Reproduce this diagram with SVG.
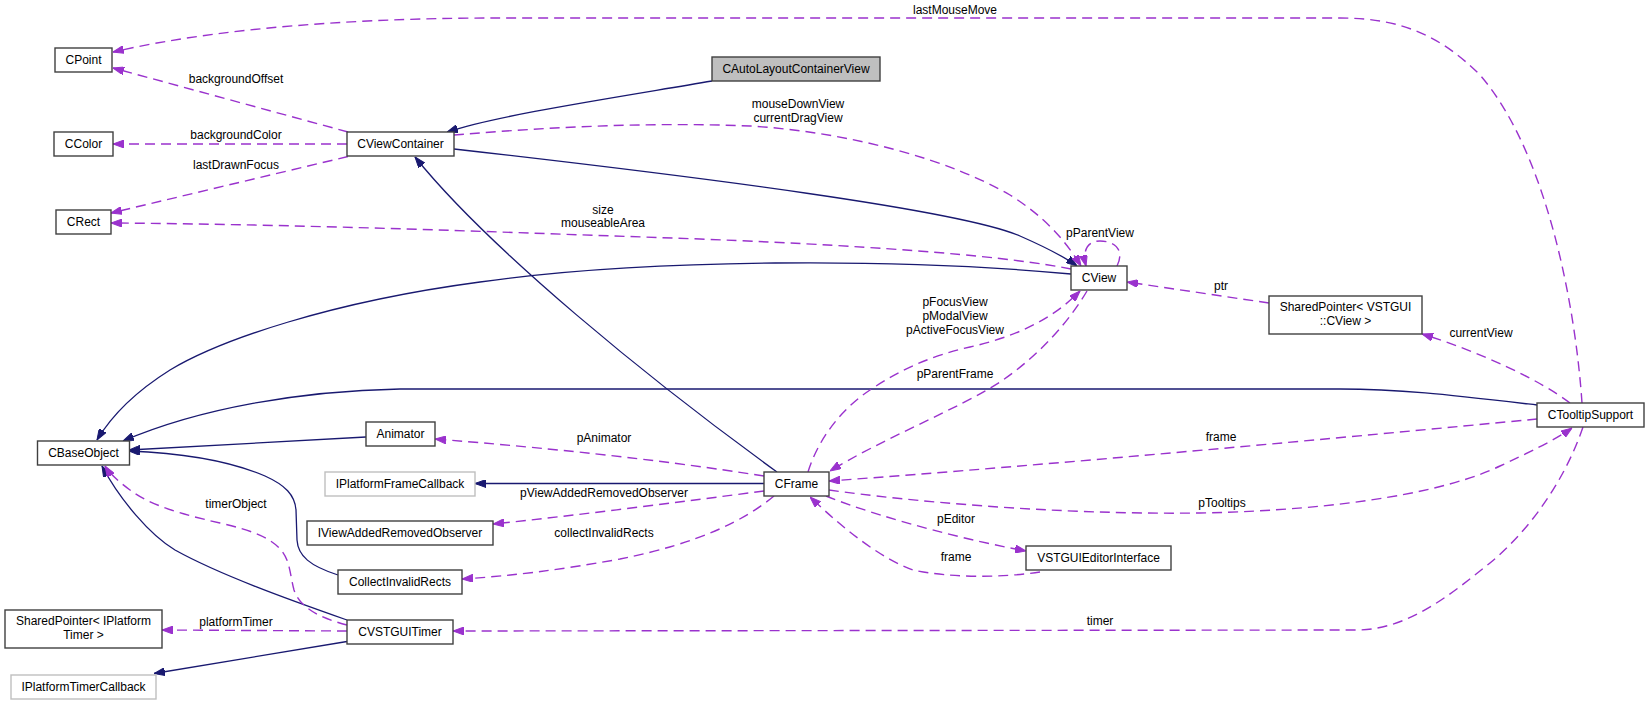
<svg xmlns="http://www.w3.org/2000/svg" width="1649" height="705" viewBox="0 0 1649 705">
<style>
  .n rect{fill:#fff;stroke:#404040;stroke-width:1.4}
  .n.g rect{stroke:#bfbfbf}
  .n.h rect{fill:#bfbfbf}
  text{font-family:"Liberation Sans",Arial,sans-serif;font-size:12px;fill:#000;text-anchor:middle}
  .inh{fill:none;stroke:#191970;stroke-width:1.3;marker-end:url(#an)}
  .use{fill:none;stroke:#9a32cd;stroke-width:1.4;stroke-dasharray:10,6;marker-end:url(#ap)}
</style>
<defs>
  <marker id="an" viewBox="0 0 11 8" refX="11" refY="4" markerWidth="11" markerHeight="8" markerUnits="userSpaceOnUse" orient="auto">
    <path d="M0,0 L11,4 L0,8 z" fill="#191970" stroke="#191970" stroke-width="1"/>
  </marker>
  <marker id="ap" viewBox="0 0 11 8" refX="11" refY="4" markerWidth="11" markerHeight="8" markerUnits="userSpaceOnUse" orient="auto">
    <path d="M0,0 L11,4 L0,8 z" fill="#9a32cd" stroke="#9a32cd" stroke-width="1"/>
  </marker>
</defs>
<rect width="1649" height="705" fill="#fff"/>
<g id="connectors">
  <path class="inh" d="M712,81 C600,100 500,115 447,132"/>
  <path class="inh" d="M454,149 C700,177 960,210 1020,236 C1045,247 1062,255 1077,266"/>
  <path class="inh" d="M1071,274 C900,258 650,258 480,282 C330,302 220,340 170,370 C135,392 112,415 97,440"/>
  <path class="inh" d="M1537,405 C1450,395 1400,389 1340,389 L400,389 C300,391 200,408 123,441"/>
  <path class="inh" d="M366,437 L129,450"/>
  <path class="inh" d="M777,472 C650,380 490,250 415,157"/>
  <path class="inh" d="M764,483.5 L475,483.5"/>
  <path class="inh" d="M338,575 C310,566 298,556 297,540 L296,510 C295,495 285,485 265,476 C230,461 180,453 129,451"/>
  <path class="inh" d="M347,620 C290,600 220,575 175,550 C150,535 120,500 102,466"/>
  <path class="inh" d="M347,641.5 L154,673.5"/>

  <path class="use" d="M1582,403 C1575,300 1545,150 1480,75 C1440,35 1400,18 1340,18 L500,18 C380,18 230,25 113,52"/>
  <path class="use" d="M348,132 L113,68"/>
  <path class="use" d="M347,144 L113,144"/>
  <path class="use" d="M348,156.5 L111,213"/>
  <path class="use" d="M1071,269 C1010,257 900,247 700,239 L500,232 C380,228 250,224 111,223"/>
  <path class="use" d="M454,135 C550,127 650,122 750,126 C850,132 950,160 1010,195 C1045,217 1065,240 1081,266"/>
  <path class="use" d="M1117,266 C1125,250 1115,241 1100,241 C1088,241 1082,250 1086,266"/>
  <path class="use" d="M1269,303 L1127,282"/>
  <path class="use" d="M1570,403 C1540,380 1480,352 1422,334"/>
  <path class="use" d="M808,472 C818,440 840,410 870,390 C900,370 930,356 970,347 C1010,338 1050,322 1080,291"/>
  <path class="use" d="M1087,291 C1070,320 1040,355 1000,382 C960,408 880,440 830,471"/>
  <path class="use" d="M764,476 C700,466 600,452 435,439"/>
  <path class="use" d="M1537,419 C1350,437 1050,465 829,481"/>
  <path class="use" d="M764,491 C680,502 580,515 493,524"/>
  <path class="use" d="M829,490 C900,500 1050,515 1200,513 C1350,510 1450,490 1500,466 C1530,452 1555,440 1572,428"/>
  <path class="use" d="M774,496 C745,520 700,543 620,559 C560,570 510,576 462,579"/>
  <path class="use" d="M826,496 C860,510 940,535 1026,551"/>
  <path class="use" d="M1040,572 C1000,578 950,578 913,570 C880,558 845,530 810,497"/>
  <path class="use" d="M1583,427 C1565,480 1530,530 1490,563 C1450,595 1410,628 1360,630 L453,631"/>
  <path class="use" d="M347,625 C320,618 300,608 294,590 C290,575 290,560 281,550 C270,537 250,530 220,523 C180,514 150,505 130,490 C118,481 110,474 105,466"/>
  <path class="use" d="M347,631 L162,630"/>

  <text x="955" y="14">lastMouseMove</text>
  <text x="236" y="83">backgroundOffset</text>
  <text x="236" y="139">backgroundColor</text>
  <text x="236" y="169">lastDrawnFocus</text>
  <text x="798" y="108">mouseDownView</text>
  <text x="798" y="122">currentDragView</text>
  <text x="603" y="214">size</text>
  <text x="603" y="227">mouseableArea</text>
  <text x="1100" y="237">pParentView</text>
  <text x="1221" y="290">ptr</text>
  <text x="1481" y="337">currentView</text>
  <text x="955" y="306">pFocusView</text>
  <text x="955" y="320">pModalView</text>
  <text x="955" y="334">pActiveFocusView</text>
  <text x="955" y="378">pParentFrame</text>
  <text x="604" y="442">pAnimator</text>
  <text x="1221" y="441">frame</text>
  <text x="604" y="497">pViewAddedRemovedObserver</text>
  <text x="1222" y="507">pTooltips</text>
  <text x="236" y="508">timerObject</text>
  <text x="956" y="523">pEditor</text>
  <text x="604" y="537">collectInvalidRects</text>
  <text x="956" y="561">frame</text>
  <text x="236" y="626">platformTimer</text>
  <text x="1100" y="625">timer</text>
</g>
<g id="CPoint" class="n"><rect x="55" y="48" width="57" height="24"/><text x="83.5" y="64">CPoint</text></g>
<g id="CColor" class="n"><rect x="54" y="132" width="59" height="24"/><text x="83.5" y="148">CColor</text></g>
<g id="CRect" class="n"><rect x="56" y="210" width="55" height="24"/><text x="83.5" y="226">CRect</text></g>
<g id="CViewContainer" class="n"><rect x="347" y="132" width="107" height="24"/><text x="400.5" y="148">CViewContainer</text></g>
<g id="CAutoLayoutContainerView" class="n h"><rect x="712" y="57" width="168" height="24"/><text x="796" y="73">CAutoLayoutContainerView</text></g>
<g id="CView" class="n"><rect x="1071" y="266" width="56" height="24"/><text x="1099" y="282">CView</text></g>
<g id="SharedPointerCView" class="n"><rect x="1269" y="296" width="153" height="38"/><text x="1345.5" y="310.5">SharedPointer&lt; VSTGUI</text><text x="1345.5" y="324.5">::CView &gt;</text></g>
<g id="CTooltipSupport" class="n"><rect x="1537" y="403" width="107" height="24"/><text x="1590.5" y="419">CTooltipSupport</text></g>
<g id="CBaseObject" class="n"><rect x="37.5" y="441" width="92" height="24"/><text x="83.5" y="457">CBaseObject</text></g>
<g id="Animator" class="n"><rect x="366" y="422" width="69" height="24"/><text x="400.5" y="438">Animator</text></g>
<g id="IPlatformFrameCallback" class="n g"><rect x="325" y="472" width="150" height="24"/><text x="400" y="488">IPlatformFrameCallback</text></g>
<g id="CFrame" class="n"><rect x="764" y="472" width="65" height="24"/><text x="796.5" y="488">CFrame</text></g>
<g id="IViewAddedRemovedObserver" class="n"><rect x="307" y="521" width="186" height="24"/><text x="400" y="537">IViewAddedRemovedObserver</text></g>
<g id="CollectInvalidRects" class="n"><rect x="338" y="570" width="124" height="24"/><text x="400" y="586">CollectInvalidRects</text></g>
<g id="VSTGUIEditorInterface" class="n"><rect x="1026" y="546" width="145" height="24"/><text x="1098.5" y="562">VSTGUIEditorInterface</text></g>
<g id="SharedPointerIPlatformTimer" class="n"><rect x="5" y="610" width="157" height="38"/><text x="83.5" y="624.5">SharedPointer&lt; IPlatform</text><text x="83.5" y="638.5">Timer &gt;</text></g>
<g id="CVSTGUITimer" class="n"><rect x="347" y="620" width="106" height="24"/><text x="400" y="636">CVSTGUITimer</text></g>
<g id="IPlatformTimerCallback" class="n g"><rect x="11" y="675" width="145" height="24"/><text x="83.5" y="691">IPlatformTimerCallback</text></g>
</svg>
